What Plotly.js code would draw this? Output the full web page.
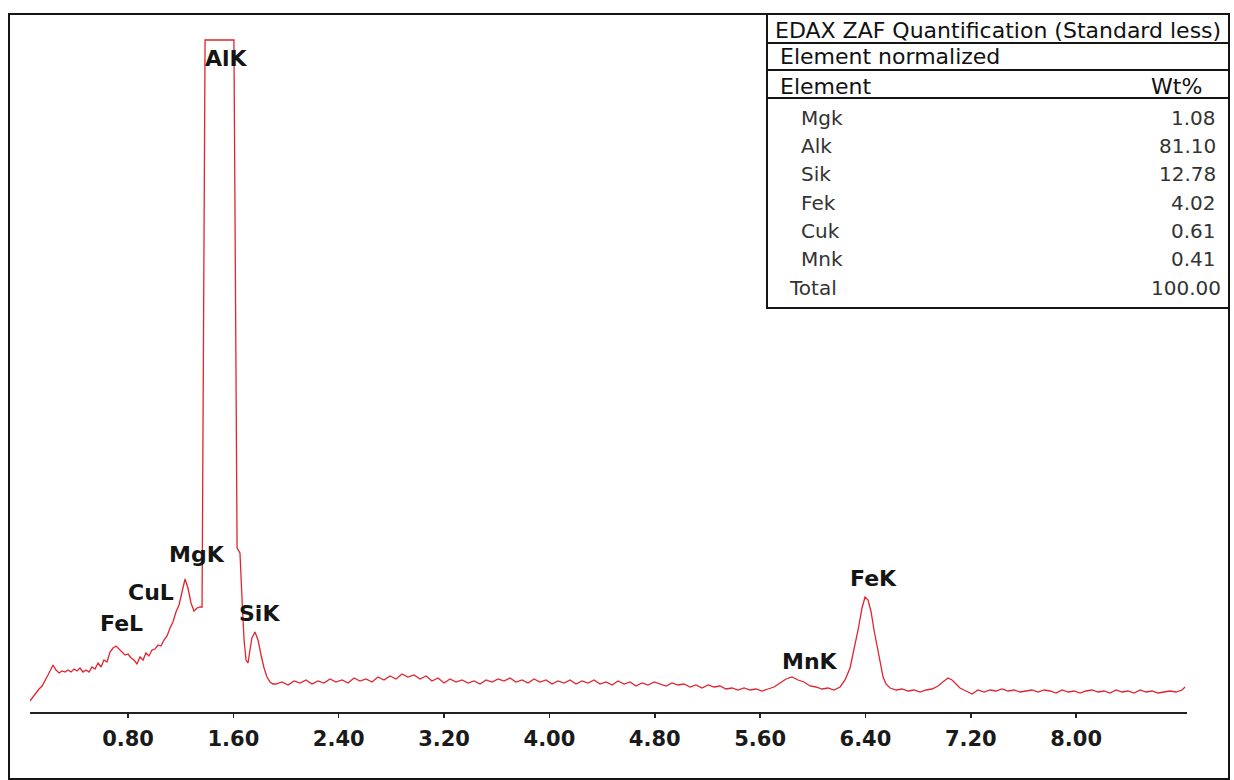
<!DOCTYPE html>
<html>
<head>
<meta charset="utf-8">
<script src="https://cdn.plot.ly/plotly-3.0.1.min.js"></script>
<style>html,body{margin:0;padding:0;background:#fff;}#chart{width:1234px;height:780px;}</style>
</head>
<body>
<div id="chart"></div>
<script>
// ---- Spectrum data (energy in keV, counts in arbitrary units, clipped at display top) ----
const energy = [0.055,0.078,0.101,0.124,0.147,0.169,0.192,0.215,0.230,0.253,0.276,0.298,0.321,0.344,0.367,0.390,0.412,0.435,0.458,0.481,0.504,0.526,0.549,0.572,0.595,0.617,0.640,0.663,0.686,0.709,0.731,0.754,0.777,0.800,0.823,0.845,0.868,0.891,0.914,0.936,0.959,0.982,1.005,1.028,1.050,1.073,1.096,1.119,1.141,1.164,1.187,1.210,1.233,1.255,1.278,1.301,1.324,1.347,1.362,1.385,1.597,1.604,1.628,1.650,1.666,1.681,1.696,1.711,1.726,1.741,1.764,1.787,1.810,1.833,1.855,1.878,1.901,1.924,1.969,2.015,2.060,2.106,2.152,2.197,2.243,2.288,2.334,2.379,2.425,2.471,2.516,2.562,2.607,2.653,2.698,2.744,2.790,2.835,2.881,2.926,2.972,3.017,3.063,3.108,3.154,3.200,3.245,3.291,3.336,3.382,3.427,3.473,3.519,3.564,3.610,3.655,3.701,3.746,3.792,3.838,3.883,3.929,3.974,4.020,4.065,4.111,4.157,4.202,4.248,4.293,4.339,4.384,4.430,4.476,4.521,4.567,4.612,4.658,4.703,4.749,4.795,4.840,4.886,4.931,4.977,5.022,5.068,5.113,5.159,5.205,5.250,5.296,5.341,5.387,5.432,5.478,5.524,5.569,5.615,5.660,5.706,5.751,5.797,5.842,5.888,5.934,5.979,6.025,6.070,6.116,6.161,6.207,6.245,6.283,6.313,6.344,6.374,6.397,6.420,6.443,6.465,6.488,6.511,6.534,6.556,6.587,6.633,6.678,6.724,6.769,6.815,6.860,6.906,6.951,6.997,7.027,7.058,7.088,7.118,7.164,7.210,7.255,7.301,7.346,7.392,7.437,7.483,7.529,7.574,7.620,7.665,7.711,7.757,7.802,7.848,7.893,7.939,7.984,8.030,8.075,8.121,8.167,8.212,8.258,8.303,8.349,8.394,8.440,8.486,8.531,8.577,8.622,8.668,8.713,8.759,8.805,8.827];
const counts = [33,45,60,69,78,93,111,129,141,126,117,123,120,126,120,129,123,132,120,126,120,135,129,147,135,156,150,180,192,198,189,180,171,174,162,156,144,165,156,177,168,186,189,201,198,216,228,252,270,300,321,360,399,372,327,303,312,315,315,2016,2016,2016,492,477,336,216,156,147,186,222,240,216,171,132,105,90,84,84,90,81,93,87,96,84,93,87,99,90,96,87,102,93,99,90,105,96,108,99,114,105,111,99,108,93,102,87,99,90,96,87,93,84,96,90,99,93,102,90,96,87,99,90,96,84,93,87,96,84,93,87,96,84,90,81,93,84,90,78,87,81,90,84,78,87,81,84,75,81,72,81,75,78,69,72,66,72,66,69,63,69,75,87,99,105,96,90,78,75,69,72,66,75,96,132,186,246,312,345,336,300,246,195,144,105,84,72,66,69,63,66,60,66,69,78,93,102,96,84,72,63,54,66,60,66,63,69,63,66,60,63,66,60,66,63,57,66,60,63,57,63,66,60,63,57,66,60,63,57,66,60,63,57,60,63,60,66,75];

const tickVals = [0.8,1.6,2.4,3.2,4.0,4.8,5.6,6.4,7.2,8.0];
const tickText = ["0.80","1.60","2.40","3.20","4.00","4.80","5.60","6.40","7.20","8.00"];

// peak labels
const peakNames  = ["FeL","CuL","MgK","AlK","SiK","MnK","FeK"];
const peakLabelE = [0.747,0.974,1.324,1.544,1.795,5.979,6.458];
const peakLabelC = [267,360,474,1962,297,153,402];

// quantification table
const tableTitle = "EDAX ZAF Quantification (Standard less)";
const tableSub = "Element normalized";
const tableHead = ["Element","Wt%"];
const tableElements = ["Mgk","Alk","Sik","Fek","Cuk","Mnk"];
const tableWt = ["1.08","81.10","12.78","4.02","0.61","0.41"];
const totalLabel = "Total";
const totalWt = "100.00";

// ---- layout helpers (pixel -> paper) ----
const L = 30, R = 47, T = 30, B = 68, W = 1234, H = 780;
const PW = W - L - R, PH = H - T - B;
const PX = x => (x - L) / PW;
const PY = y => (H - B - y) / PH;

const trace = {
  x: energy, y: counts, type: 'scatter', mode: 'lines',
  line: {color: '#e3232d', width: 1.3},
  hoverinfo: 'skip', cliponaxis: false
};

const annotations = [];
peakNames.forEach((n, i) => annotations.push({
  x: peakLabelE[i], y: peakLabelC[i], xref: 'x', yref: 'y', text: n, showarrow: false,
  xanchor: 'center', yanchor: 'middle',
  font: {family: 'DejaVu Sans', size: 22, color: '#151515', weight: 'bold'}
}));

const hdrFont = {family: 'DejaVu Sans', size: 22, color: '#111'};
const rowFont = {family: 'DejaVu Sans', size: 20, color: '#333'};
function txt(t, x, y, anchor, font) {
  annotations.push({x: PX(x), y: PY(y), xref: 'paper', yref: 'paper', text: t, showarrow: false,
    xanchor: anchor, yanchor: 'middle', font: font});
}
txt(tableTitle, 773, 30, 'left', hdrFont);
txt(tableSub, 778, 57, 'left', hdrFont);
txt(tableHead[0], 778, 86, 'left', hdrFont);
txt(tableHead[1], 1204, 86, 'right', hdrFont);
tableElements.forEach((e, i) => {
  const yy = 118 + i * 28.2;
  txt(e, 799, yy, 'left', rowFont);
  txt(tableWt[i], 1218, yy, 'right', rowFont);
});
txt(totalLabel, 787, 288, 'left', rowFont);
txt(totalWt, 1223, 288, 'right', rowFont);

const lineStyle = {color: '#151515', width: 2};
const shapes = [
  // outer frame
  {type: 'rect', xref: 'paper', yref: 'paper', x0: PX(9), x1: PX(1229), y0: PY(779), y1: PY(14), line: lineStyle, fillcolor: 'rgba(0,0,0,0)', layer: 'below'},
  // table box
  {type: 'rect', xref: 'paper', yref: 'paper', x0: PX(767), x1: PX(1229), y0: PY(308), y1: PY(14), line: lineStyle, fillcolor: '#ffffff', layer: 'below'},
  {type: 'line', xref: 'paper', yref: 'paper', x0: PX(767), x1: PX(1229), y0: PY(43), y1: PY(43), line: lineStyle},
  {type: 'line', xref: 'paper', yref: 'paper', x0: PX(767), x1: PX(1229), y0: PY(70), y1: PY(70), line: lineStyle},
  {type: 'line', xref: 'paper', yref: 'paper', x0: PX(767), x1: PX(1229), y0: PY(98), y1: PY(98), line: lineStyle}
];

const layout = {
  width: W, height: H,
  margin: {l: L, r: R, t: T, b: B, pad: 0},
  paper_bgcolor: '#ffffff', plot_bgcolor: '#ffffff',
  showlegend: false,
  xaxis: {
    range: [0.0554, 8.842], tickmode: 'array', tickvals: tickVals, ticktext: tickText,
    showline: true, linecolor: '#222', linewidth: 1.5, mirror: false,
    ticks: 'outside', ticklen: 4, tickwidth: 1.5, tickcolor: '#222',
    showgrid: false, zeroline: false, ticklabelstandoff: 3,
    tickfont: {family: 'DejaVu Sans', size: 21, color: '#1a1a1a', weight: 'bold'}
  },
  yaxis: {range: [0, 2046], visible: false, showgrid: false, zeroline: false},
  annotations: annotations,
  shapes: shapes
};

Plotly.newPlot('chart', [trace], layout, {staticPlot: true, displayModeBar: false});
</script>
</body>
</html>
